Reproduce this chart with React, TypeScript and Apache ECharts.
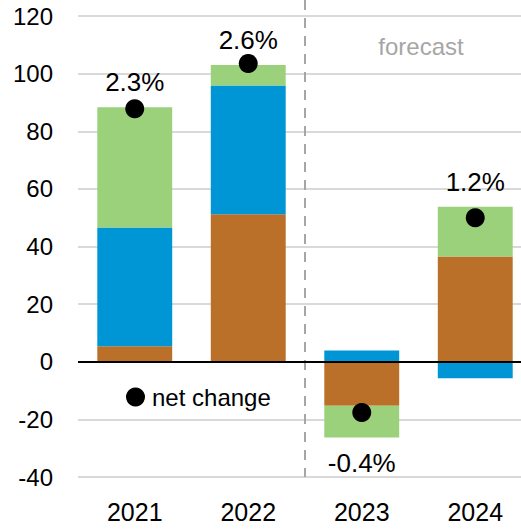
import React, { useEffect, useRef } from "react";
import * as echarts from "echarts";

const categories = ["2021", "2022", "2023", "2024"];
const brownValues = [5.4, 51.2, -15.3, 36.5];
const blueValues = [41.2, 44.7, 3.9, -5.7];
const greenValues = [41.7, 7.1, -11.0, 17.3];
const netChange = [87.8, 103.5, -17.6, 50.0];
const netPctLabels = ["2.3%", "2.6%", "-0.4%", "1.2%"];
const yTicks = { min: -40, max: 120, interval: 20 };
const forecastLabel = "forecast";
const legendLabel = "net change";

const FONT = "'Liberation Sans', Arial, sans-serif";

export default function App() {
  const ref = useRef<HTMLDivElement>(null);

  useEffect(() => {
    document.body.style.margin = "0";
    document.body.style.overflow = "hidden";
    document.documentElement.style.overflow = "hidden";
    if (!ref.current) return;
    const chart = echarts.init(ref.current, undefined, { renderer: "svg" });

    const greenData = greenValues.map((v, i) => ({
      value: v,
      label: {
        show: true,
        position: v >= 0 ? "top" : "bottom",
        distance: 12,
        formatter: netPctLabels[i],
        fontSize: 26,
        lineHeight: 26,
        color: "#000",
        fontFamily: FONT,
      },
    }));

    chart.setOption({
      animation: false,
      textStyle: { fontFamily: FONT },
      grid: { left: 78, top: 16, width: 454, height: 461 },
      legend: {
        data: [legendLabel],
        icon: "circle",
        itemWidth: 19,
        itemHeight: 19,
        left: 126,
        top: 385,
        padding: 0,
        itemStyle: { opacity: 1, color: "#000" },
        textStyle: { fontSize: 24, lineHeight: 24, color: "#000", fontFamily: FONT, padding: [0, 0, 0, 2] },
        selectedMode: false,
      },
      xAxis: {
        type: "category",
        data: categories,
        axisLine: { show: false, onZero: false },
        axisTick: { show: false },
        axisLabel: { fontSize: 25, color: "#000", margin: 22, fontFamily: FONT },
        splitLine: { show: false },
      },
      yAxis: {
        type: "value",
        min: yTicks.min,
        max: yTicks.max,
        interval: yTicks.interval,
        axisLine: { show: false },
        axisTick: { show: false },
        axisLabel: { fontSize: 24, color: "#000", margin: 25, fontFamily: FONT },
        splitLine: { lineStyle: { color: "#d9d9d9", width: 2 } },
      },
      series: [
        {
          type: "bar",
          name: "brown",
          stack: "s",
          data: brownValues,
          barWidth: "66%",
          itemStyle: { color: "#BA7028" },
        },
        {
          type: "bar",
          name: "blue",
          stack: "s",
          data: blueValues,
          itemStyle: { color: "#0096D6" },
        },
        {
          type: "bar",
          name: "green",
          stack: "s",
          data: greenData,
          itemStyle: { color: "#9BD17A" },
        },
        {
          type: "scatter",
          name: legendLabel,
          data: netChange,
          symbol: "circle",
          symbolSize: 19,
          itemStyle: { color: "#000", opacity: 1 },
          z: 5,
          markLine: {
            silent: true,
            symbol: "none",
            label: { show: false },
            lineStyle: { color: "#000", width: 2, type: "solid" },
            data: [{ yAxis: 0 }],
          },
        },
      ],
    });

    const x1 = chart.convertToPixel({ xAxisIndex: 0 }, categories[1]) as number;
    const x2 = chart.convertToPixel({ xAxisIndex: 0 }, categories[2]) as number;
    const xMid = (x1 + x2) / 2;
    const yBottom = chart.convertToPixel({ yAxisIndex: 0 }, yTicks.min) as number;

    chart.setOption({
      graphic: [
        {
          type: "line",
          shape: { x1: xMid, y1: 0, x2: xMid, y2: yBottom },
          style: { stroke: "#a6a6a6", lineWidth: 2, lineDash: [10, 8] },
          z: 1,
        },
        {
          type: "text",
          x: 421,
          y: 46,
          style: {
            text: forecastLabel,
            fill: "#a6a6a6",
            fontSize: 24,
            fontFamily: FONT,
            textAlign: "center",
            textVerticalAlign: "middle",
          },
        },
      ],
    });

    return () => chart.dispose();
  }, []);

  return <div ref={ref} style={{ width: 532, height: 529 }} />;
}
